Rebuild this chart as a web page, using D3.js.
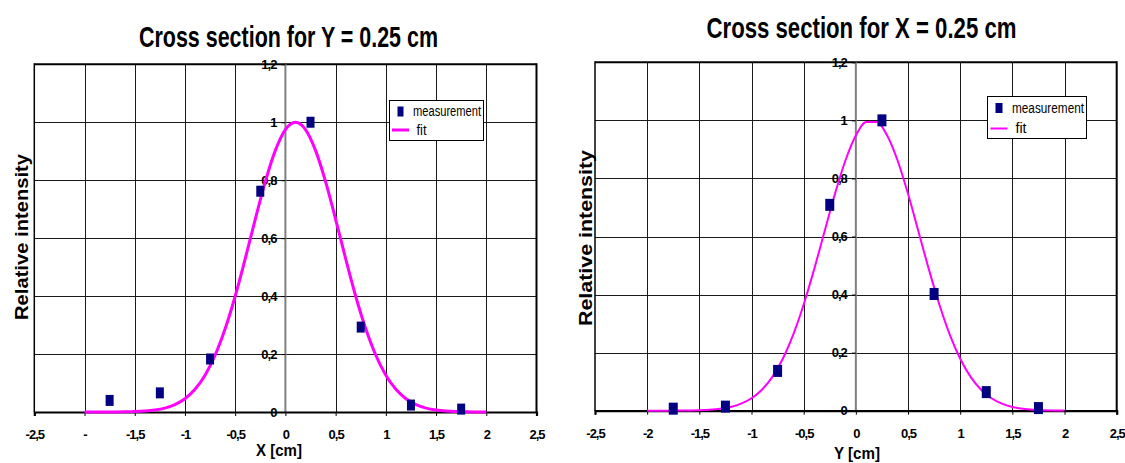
<!DOCTYPE html>
<html>
<head>
<meta charset="utf-8">
<script src="https://cdn.jsdelivr.net/npm/d3@7"></script>
<style>
  html, body { margin: 0; padding: 0; background: #fff; }
  svg { display: block; }
  text { font-family: "Liberation Sans", Arial, sans-serif; font-weight: bold; fill: #000; }
</style>
</head>
<body>
<svg id="chart" width="1125" height="463"></svg>
<script>
// ---------- DATA ----------
const xTickValues = [-2.5, -2, -1.5, -1, -0.5, 0, 0.5, 1, 1.5, 2, 2.5];
const leftXTickLabels = ["-2,5", "-", "-1,5", "-1", "-0,5", "0", "0,5", "1", "1,5", "2", "2,5"];
const rightXTickLabels = ["-2,5", "-2", "-1,5", "-1", "-0,5", "0", "0,5", "1", "1,5", "2", "2,5"];
const yTickValues = [0, 0.2, 0.4, 0.6, 0.8, 1, 1.2];
const yTickLabels = ["0", "0,2", "0,4", "0,6", "0,8", "1", "1,2"];

const measX = [-1.75, -1.25, -0.75, -0.25, 0.25, 0.75, 1.25, 1.75];
const leftMeasY = [0.040, 0.066, 0.183, 0.762, 1.0, 0.293, 0.024, 0.010];
const rightMeasY = [0.007, 0.014, 0.137, 0.709, 1.0, 0.402, 0.064, 0.009];

const fitX = [-2.0, -1.9, -1.8, -1.7, -1.6, -1.5, -1.4, -1.3, -1.2, -1.1, -1.0,
              -0.9, -0.8, -0.7, -0.6, -0.5, -0.4, -0.3, -0.2, -0.1, 0.0,
              0.1, 0.2, 0.3, 0.4, 0.5, 0.6, 0.7, 0.8, 0.9, 1.0,
              1.1, 1.2, 1.3, 1.4, 1.5, 1.6, 1.7, 1.8, 1.9, 2.0];
const leftFitY = [0.0000, 0.0000, 0.0001, 0.0003, 0.0006, 0.0015, 0.0032, 0.0068, 0.0135, 0.0255, 0.0458,
                  0.0783, 0.1270, 0.1958, 0.2870, 0.3996, 0.5289, 0.6652, 0.7952, 0.9030, 0.9748,
                  1.0000, 0.9748, 0.9030, 0.7952, 0.6652, 0.5289, 0.3996, 0.2870, 0.1958, 0.1270,
                  0.0783, 0.0458, 0.0255, 0.0135, 0.0068, 0.0032, 0.0015, 0.0006, 0.0003, 0.0001];
const rightFitY = [0.0000, 0.0000, 0.0001, 0.0003, 0.0007, 0.0015, 0.0033, 0.0067, 0.0130, 0.0242, 0.0429,
                   0.0724, 0.1166, 0.1790, 0.2621, 0.3657, 0.4867, 0.6175, 0.7470, 0.8617, 0.9478,
                   0.9941, 0.9941, 0.9478, 0.8617, 0.7470, 0.6175, 0.4867, 0.3657, 0.2621, 0.1790,
                   0.1166, 0.0724, 0.0429, 0.0242, 0.0130, 0.0067, 0.0033, 0.0015, 0.0007, 0.0003];

const seriesNames = ["measurement", "fit"];

// ---------- LAYOUT ----------
const charts = [
  {
    title: "Cross section for Y = 0.25 cm", titleX: 288.5, titleY: 47, titleLen: 299, titleSize: 30,
    xLabel: "X [cm]", xLabelX: 279, xLabelY: 456, xLabelLen: 46,
    yLabelX: 28, yLabelY: 237, yLabelLen: 166,
    xRange: [34.3, 536.5], yRange: [412, 64.3],
    xTickLabels: leftXTickLabels, xTickY: 439,
    measY: leftMeasY, fitY: leftFitY,
    markW: 8, markH: 11, fitW: 3,
    legend: { x: 389.5, y: 100.5, w: 94, h: 40, markX: 397.5, markY: 106.5, textX: 413, textY1: 116, textY2: 135, lineX1: 392, lineX2: 409, lineY: 130, len1: 68, len2: 10 }
  },
  {
    title: "Cross section for X = 0.25 cm", titleX: 861.5, titleY: 38, titleLen: 310, titleSize: 30,
    xLabel: "Y [cm]", xLabelX: 857, xLabelY: 459, xLabelLen: 46,
    yLabelX: 592, yLabelY: 238, yLabelLen: 176,
    xRange: [595, 1116.7], yRange: [410.7, 62.3],
    xTickLabels: rightXTickLabels, xTickY: 438,
    measY: rightMeasY, fitY: rightFitY,
    markW: 9, markH: 12, fitW: 2,
    legend: { x: 987.5, y: 96.5, w: 99, h: 42, markX: 995.5, markY: 103, textX: 1012, textY1: 113, textY2: 133, lineX1: 990.5, lineX2: 1007.5, lineY: 128.5, len1: 72, len2: 11 }
  }
];

const svg = d3.select("#chart");

charts.forEach(cfg => {
  const x = d3.scaleLinear().domain([-2.5, 2.5]).range(cfg.xRange);
  const y = d3.scaleLinear().domain([0, 1.2]).range(cfg.yRange);
  const g = svg.append("g");
  const [x0, x1] = cfg.xRange;
  const [yb, yt] = cfg.yRange;

  // plot background
  g.append("rect").attr("x", x0).attr("y", yt).attr("width", x1 - x0).attr("height", yb - yt).attr("fill", "#fff");

  // horizontal gridlines
  g.append("g").selectAll("line").data(yTickValues.filter(v => v > 0 && v < 1.2)).join("line")
    .attr("x1", x0).attr("x2", x1)
    .attr("y1", d => Math.round(y(d)) + 0.5).attr("y2", d => Math.round(y(d)) + 0.5)
    .attr("stroke", "#1a1a1a").attr("stroke-width", 1);

  // vertical gridlines
  g.append("g").selectAll("line").data(xTickValues.filter(v => v !== 0 && v > -2.5 && v < 2.5)).join("line")
    .attr("x1", d => Math.round(x(d)) + 0.5).attr("x2", d => Math.round(x(d)) + 0.5)
    .attr("y1", yt).attr("y2", yb)
    .attr("stroke", "#1a1a1a").attr("stroke-width", 1);

  // plot borders (top, right, left)
  g.append("line").attr("x1", x0).attr("x2", x1).attr("y1", yt).attr("y2", yt).attr("stroke", "#000").attr("stroke-width", 2);
  g.append("line").attr("x1", x1).attr("x2", x1).attr("y1", yt - 1).attr("y2", yb).attr("stroke", "#000").attr("stroke-width", 2);
  g.append("line").attr("x1", x0).attr("x2", x0).attr("y1", yt - 1).attr("y2", yb).attr("stroke", "#000").attr("stroke-width", 1.5);

  // y axis at x = 0 (gray)
  g.append("line").attr("x1", x(0)).attr("x2", x(0)).attr("y1", yt).attr("y2", yb).attr("stroke", "#808080").attr("stroke-width", 2);

  // x axis at y = 0
  const xAxis = d3.axisBottom(x).tickValues(xTickValues).tickSize(4).tickFormat((d, i) => cfg.xTickLabels[i]);
  const xg = g.append("g").attr("transform", `translate(0,${yb})`).call(xAxis);
  xg.select(".domain").attr("stroke", "#000").attr("stroke-width", 2.2);
  xg.selectAll(".tick line").attr("stroke", "#000").attr("stroke-width", 1);
  xg.selectAll(".tick text")
    .attr("y", cfg.xTickY - yb).attr("dy", 0)
    .attr("font-size", 13).attr("letter-spacing", "-1px")
    .style("font-family", "'Liberation Sans', Arial, sans-serif").style("font-weight", "bold").attr("fill", "#000");

  // y axis ticks and labels at x = 0
  const yAxis = d3.axisLeft(y).tickValues(yTickValues).tickSize(4).tickPadding(5).tickFormat((d, i) => yTickLabels[i]);
  const yg = g.append("g").attr("transform", `translate(${x(0)},0)`).call(yAxis);
  yg.select(".domain").remove();
  yg.selectAll(".tick line").attr("stroke", "#000").attr("stroke-width", 1);
  yg.selectAll(".tick text")
    .attr("font-size", 13).attr("letter-spacing", "-1px")
    .style("font-family", "'Liberation Sans', Arial, sans-serif").style("font-weight", "bold").attr("fill", "#000");

  // fit line
  const fitData = fitX.map((v, i) => [v, cfg.fitY[i]]);
  g.append("path").datum(fitData)
    .attr("d", d3.line().x(d => x(d[0])).y(d => y(d[1])).curve(d3.curveMonotoneX))
    .attr("fill", "none").attr("stroke", "#ff00ff").attr("stroke-width", cfg.fitW).attr("stroke-linejoin", "round");

  // measurement markers
  g.append("g").selectAll("rect").data(measX.map((v, i) => [v, cfg.measY[i]])).join("rect")
    .attr("x", d => x(d[0]) - cfg.markW / 2).attr("y", d => y(d[1]) - cfg.markH / 2)
    .attr("width", cfg.markW).attr("height", cfg.markH)
    .attr("fill", "#000080");

  // legend
  const L = cfg.legend;
  g.append("rect").attr("x", L.x).attr("y", L.y).attr("width", L.w).attr("height", L.h)
    .attr("fill", "#fff").attr("stroke", "#000").attr("stroke-width", 1);
  g.append("rect").attr("x", L.markX).attr("y", L.markY).attr("width", cfg.markW - 2).attr("height", 10).attr("fill", "#000080");
  g.append("line").attr("x1", L.lineX1).attr("x2", L.lineX2).attr("y1", L.lineY).attr("y2", L.lineY)
    .attr("stroke", "#ff00ff").attr("stroke-width", cfg.fitW);
  g.append("text").attr("x", L.textX).attr("y", L.textY1).attr("font-size", 14).style("font-weight", "normal")
    .attr("textLength", L.len1).attr("lengthAdjust", "spacingAndGlyphs").text(seriesNames[0]);
  g.append("text").attr("x", L.textX + 3.5).attr("y", L.textY2).attr("font-size", 14).style("font-weight", "normal")
    .attr("textLength", L.len2).attr("lengthAdjust", "spacingAndGlyphs").text(seriesNames[1]);

  // title
  svg.append("text").attr("x", cfg.titleX).attr("y", cfg.titleY).attr("text-anchor", "middle")
    .attr("font-size", cfg.titleSize).attr("textLength", cfg.titleLen).attr("lengthAdjust", "spacingAndGlyphs")
    .text(cfg.title);

  // x axis label
  svg.append("text").attr("x", cfg.xLabelX).attr("y", cfg.xLabelY).attr("text-anchor", "middle")
    .attr("font-size", 17).attr("textLength", cfg.xLabelLen).attr("lengthAdjust", "spacingAndGlyphs")
    .text(cfg.xLabel);

  // y axis label
  svg.append("text").attr("transform", `translate(${cfg.yLabelX},${cfg.yLabelY}) rotate(-90)`)
    .attr("text-anchor", "middle").attr("font-size", 18)
    .attr("textLength", cfg.yLabelLen).attr("lengthAdjust", "spacingAndGlyphs")
    .text("Relative intensity");
});
</script>
</body>
</html>
